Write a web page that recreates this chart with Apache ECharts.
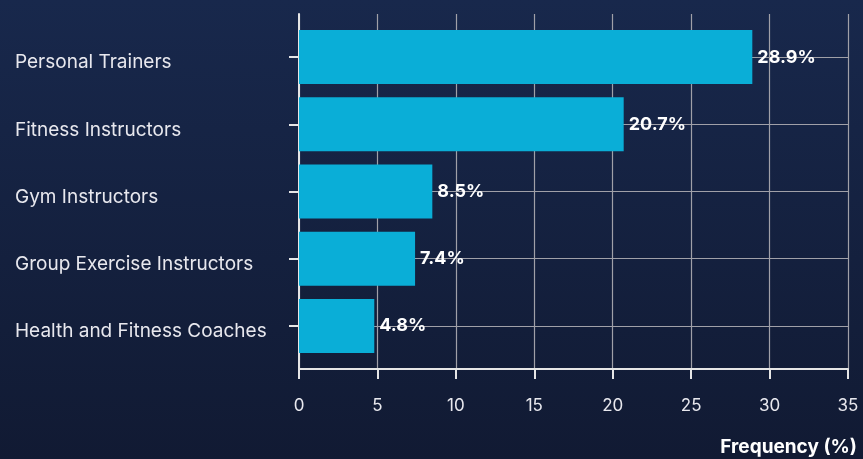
<!DOCTYPE html>
<html><head><meta charset="utf-8">
<script src="https://cdn.jsdelivr.net/npm/echarts@6/dist/echarts.min.js"></script>
<style>html,body{margin:0;padding:0;}#c{width:863px;height:459px;}</style>
</head><body><div id="c"></div>
<script>
const categories = ['Personal Trainers','Fitness Instructors','Gym Instructors','Group Exercise Instructors','Health and Fitness Coaches'];
const values = [28.9, 20.7, 8.5, 7.4, 4.8];
const xTicks = [0, 5, 10, 15, 20, 25, 30, 35];
const axisTitle = 'Frequency (%)';

const FONT = 'Inter';
const chart = echarts.init(document.getElementById('c'));
chart.setOption({
  backgroundColor: new echarts.graphic.LinearGradient(0,0,0,1,[{offset:0,color:'#18284c'},{offset:1,color:'#111a33'}]),
  animation: false,
  title: { text: axisTitle, right: 6, top: 438, padding: 0, textStyle: { color: '#ffffff', fontFamily: FONT, fontWeight: 'bold', fontSize: 19 } },
  grid: [
    { left: 299, right: 15, top: 14, bottom: 90 },
    { left: 299, right: 15, top: 23.5, bottom: 99.5 }
  ],
  xAxis: [
    { gridIndex: 0, type: 'value', min: xTicks[0], max: xTicks[xTicks.length-1], interval: 5,
      axisLine: { show: true, lineStyle: { color: '#e6e6e6', width: 2 } },
      axisTick: { show: true, length: 10, lineStyle: { color: '#e6e6e6', width: 2 } },
      axisLabel: { color: '#e8e8ee', fontFamily: FONT, fontSize: 17, margin: 28 },
      splitLine: { show: true, lineStyle: { color: '#a0a0a8', width: 1.2 } } },
    { gridIndex: 1, type: 'value', min: xTicks[0], max: xTicks[xTicks.length-1], show: false, splitLine: { show: false } }
  ],
  yAxis: [
    { gridIndex: 0, type: 'value', min: 0, max: 1, axisLabel: { show: false }, axisTick: { show: false },
      splitLine: { show: false }, axisLine: { show: true, lineStyle: { color: '#e6e6e6', width: 2 } } },
    { gridIndex: 1, type: 'category', data: categories, inverse: true,
      axisLine: { show: false },
      axisTick: { show: true, alignWithLabel: true, length: 10, lineStyle: { color: '#e6e6e6', width: 2 } },
      axisLabel: { color: '#e8e8ee', fontFamily: FONT, fontSize: 19, align: 'left', margin: 284, verticalAlign: 'top', lineHeight: 11 },
      splitLine: { show: false } }
  ],
  series: [{
    type: 'bar', xAxisIndex: 1, yAxisIndex: 1, data: values, barWidth: 54,
    itemStyle: { color: '#0aaed7' },
    label: { show: true, position: 'right', distance: 5, color: '#ffffff', fontFamily: FONT, fontWeight: 'bold', fontSize: 18,
      padding: [4, 0, 0, 0], formatter: p => p.value.toFixed(1) + '%' },
    markLine: { silent: true, symbol: 'none', z: 1, label: { show: false },
      lineStyle: { color: '#a0a0a8', width: 1.2, type: 'solid' },
      data: categories.map(c => ({ yAxis: c })) }
  }]
});
</script></body></html>
